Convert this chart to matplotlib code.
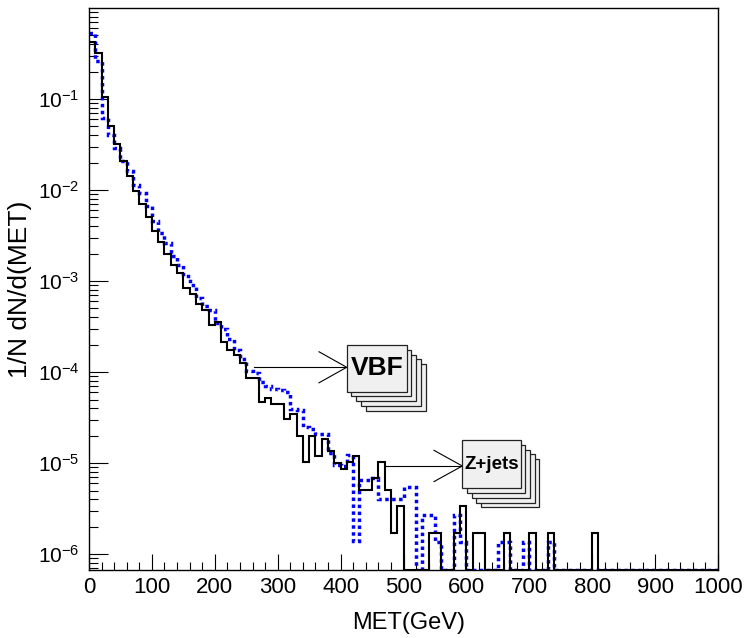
import matplotlib
matplotlib.use('Agg')
import matplotlib.pyplot as plt
import numpy as np
from matplotlib.patches import Rectangle
from matplotlib.ticker import MultipleLocator, LogLocator, FixedLocator, NullFormatter, FuncFormatter

plt.rcParams['font.family'] = ['Liberation Sans', 'DejaVu Sans']
plt.rcParams['mathtext.fontset'] = 'custom'
plt.rcParams['mathtext.rm'] = 'Liberation Sans'
plt.rcParams['mathtext.default'] = 'regular'

# MET histograms, 10 GeV bins from 0 to 1000, normalised (1/N dN/dMET)
bin_edges = np.arange(0, 1001, 10)

met_solid = [
    0.42, 0.32, 0.104, 0.051, 0.032, 0.0206, 0.0143, 0.0098, 0.0071, 0.0050,
    0.00357, 0.0027, 0.0020, 0.0015, 0.00123, 0.00083, 0.000714, 0.000555, 0.00048, 0.000328,
    0.000355, 0.000215, 0.000174, 0.000156, 0.000126, 8.7e-5, 8.7e-5, 4.7e-5, 5.2e-5, 4.5e-5,
    4.5e-5, 3.05e-5, 3.5e-5, 2.0e-5, 1.02e-5, 2.0e-5, 1.2e-5, 1.85e-5, 1.37e-5, 1.0e-5,
    8.6e-6, 1.03e-5, 1.2e-5, 5.1e-6, 5.1e-6, 6.8e-6, 1.03e-5, 5.1e-6, 1.71e-6, 3.4e-6,
    0, 0, 0, 0, 1.71e-6, 1.71e-6, 0, 0, 1.71e-6, 3.4e-6,
    0, 1.71e-6, 1.71e-6, 0, 0, 0, 1.71e-6, 0, 0, 0,
    1.71e-6, 0, 0, 1.71e-6, 0, 0, 0, 0, 0, 0,
    1.71e-6, 0, 0, 0, 0, 0, 0, 0, 0, 0,
    0, 0, 0, 0, 0, 0, 0, 0, 0, 0,
]

met_dotted = [
    0.53, 0.26, 0.062, 0.040, 0.029, 0.021, 0.016, 0.0113, 0.0093, 0.0066,
    0.0046, 0.0034, 0.0026, 0.0019, 0.0015, 0.00113, 0.00091, 0.00065, 0.00053, 0.00048,
    0.00035, 0.00030, 0.00023, 0.000174, 0.00014, 0.000103, 9.75e-5, 7.8e-5, 7.0e-5, 6.6e-5,
    6.3e-5, 6.0e-5, 3.9e-5, 3.8e-5, 2.5e-5, 2.4e-5, 2.1e-5, 2.1e-5, 1.28e-5, 9.5e-6,
    9.2e-6, 1.23e-5, 1.4e-6, 6.5e-6, 6.5e-6, 6.8e-6, 4.0e-6, 4.0e-6, 4.0e-6, 4.0e-6,
    5.4e-6, 5.4e-6, 0, 2.7e-6, 2.7e-6, 1.35e-6, 0, 0, 2.7e-6, 1.35e-6,
    0, 0, 0, 0, 0, 1.35e-6, 1.35e-6, 0, 0, 1.35e-6,
    0, 0, 0, 1.35e-6, 0, 0, 0, 0, 0, 0,
    0, 0, 0, 0, 0, 0, 0, 0, 0, 0,
    0, 0, 0, 0, 0, 0, 0, 0, 0, 0,
]

y_tick_values = [1e-6, 1e-5, 1e-4, 1e-3, 1e-2, 1e-1]
y_lo, y_hi = 6.7e-7, 1.0

fig = plt.figure(figsize=(7.44, 6.38), dpi=100)
ax = fig.add_axes([89 / 744, 1 - 570 / 638, 629 / 744, 562 / 638])

# empty bins sit on the axis minimum, as ROOT draws them
ax.stairs(np.maximum(met_solid, y_lo), bin_edges, baseline=None,
          color='black', lw=1.5, zorder=3)
ax.stairs(np.maximum(met_dotted, y_lo), bin_edges, baseline=None,
          color='#0000ff', lw=2.5, linestyle=(0, (1, 1)), zorder=2)

ax.set_yscale('log')
ax.set_xlim(0, 1000)
ax.set_ylim(y_lo, y_hi)

ax.xaxis.set_major_locator(MultipleLocator(100))
ax.xaxis.set_minor_locator(MultipleLocator(20))
ax.yaxis.set_major_locator(FixedLocator(y_tick_values))
ax.yaxis.set_minor_locator(LogLocator(base=10, subs=np.arange(2, 10)))
ax.yaxis.set_minor_formatter(NullFormatter())
ax.yaxis.set_major_formatter(FuncFormatter(
    lambda v, p: r'$\mathregular{10^{%d}}$' % int(round(np.log10(v)))))

ax.tick_params(axis='x', which='major', direction='in', length=11.5, width=0.8,
               labelsize=16, pad=5)
ax.tick_params(axis='x', which='minor', direction='in', length=5.8, width=0.8)
ax.tick_params(axis='y', which='major', direction='in', length=13.5, width=0.8,
               labelsize=15, pad=7)
ax.tick_params(axis='y', which='minor', direction='in', length=6.5, width=0.8)
for s in ax.spines.values():
    s.set_linewidth(1.0)

ax.set_xlabel('MET(GeV)', fontsize=17)
ax.xaxis.set_label_coords(0.508, -0.074)
ax.xaxis.label.set_va('top')
ax.set_ylabel('1/N dN/d(MET)', fontsize=19)
ax.yaxis.set_label_coords(-0.091, 0.5)


def stacked_label(ax, x0, x1, y0, y1, text, size, step_x, step_y):
    # a pile of shadowed boxes behind the front label box
    w, h = x1 - x0, y1 - y0
    for k in range(4, 0, -1):
        ax.add_patch(Rectangle((x0 + k * step_x, y0 - k * step_y), w, h,
                               transform=ax.transAxes, facecolor='#f0f0f0',
                               edgecolor='#222222', lw=0.9, zorder=5))
    ax.add_patch(Rectangle((x0, y0), w, h, transform=ax.transAxes,
                           facecolor='#f0f0f0', edgecolor='#222222', lw=0.9, zorder=6))
    ax.text(x0 + w / 2, y0 + h / 2, text, transform=ax.transAxes, ha='center',
            va='center', fontsize=size, fontweight='bold', zorder=7)


def open_arrow(ax, x_start, x_tip, y, x_head, dy):
    ax.plot([x_start, x_tip], [y, y], color='black', lw=0.8,
            transform=ax.transAxes, zorder=4)
    ax.plot([x_head, x_tip, x_head], [y + dy, y, y - dy], color='black', lw=0.8,
            transform=ax.transAxes, zorder=4)


stacked_label(ax, 0.4097, 0.5051, 0.3173, 0.4004, 'VBF', 19, 0.0076, 0.0085)
open_arrow(ax, 0.2628, 0.4097, 0.3607, 0.3657, 0.0276)

stacked_label(ax, 0.5935, 0.6863, 0.1454, 0.2313, 'Z+jets', 13.5, 0.0074, 0.0085)
open_arrow(ax, 0.4706, 0.5935, 0.1851, 0.5485, 0.0278)

fig.savefig('out.png', dpi=100)
